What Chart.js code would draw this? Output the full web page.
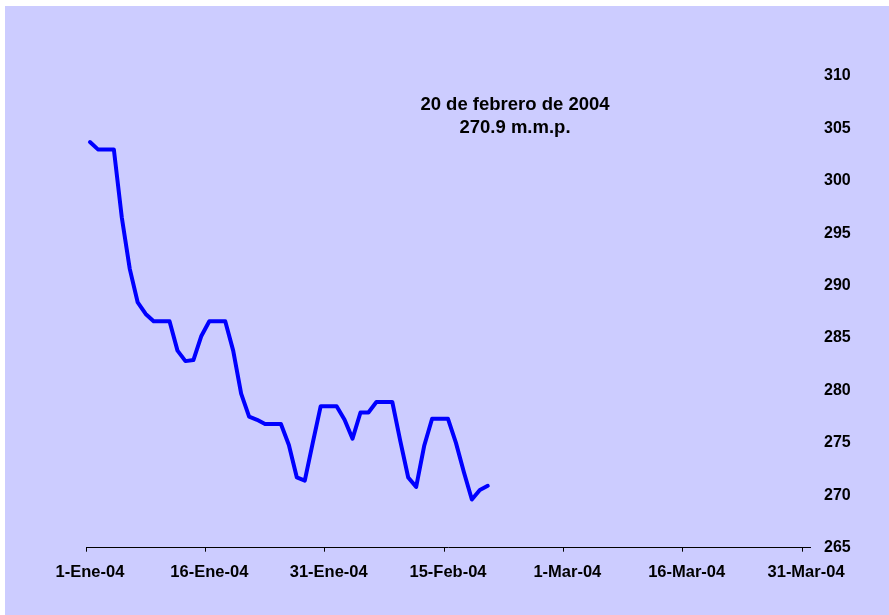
<!DOCTYPE html>
<html>
<head>
<meta charset="utf-8">
<script src="https://cdn.jsdelivr.net/npm/chart.js@4.4.1/dist/chart.umd.min.js"></script>
<style>
    html, body { margin: 0; padding: 0; background: #ffffff; }
    #reservas { position: absolute; left: 5px; top: 6px; background: #ccccff; }
</style>
</head>
<body>
<canvas id="reservas" width="884" height="609"></canvas>
<script>
// daily values, 1-Ene-04 .. 20-Feb-04 (weekends carry Friday's value)
const startDate = '2004-01-01';
const values = [
    303.7, 303.0, 303.0, 303.0, 296.5, 291.6, 288.4, 287.3, 286.6, 286.6,
    286.6, 283.8, 282.8, 282.9, 285.2, 286.6, 286.6, 286.6, 283.8, 279.7,
    277.5, 277.2, 276.8, 276.8, 276.8, 274.8, 271.7, 271.4, 275.0, 278.5,
    278.5, 278.5, 277.2, 275.4, 277.9, 277.9, 278.9, 278.9, 278.9, 275.2,
    271.7, 270.8, 274.7, 277.3, 277.3, 277.3, 275.0, 272.2, 269.6, 270.5,
    270.9
];
const tickDays = [0, 15, 30, 45, 60, 75, 90];
const xTickLabels = ['1-Ene-04', '16-Ene-04', '31-Ene-04', '15-Feb-04', '1-Mar-04', '16-Mar-04', '31-Mar-04'];
const yMin = 265, yMax = 310, yStep = 5;
const noteLines = ['20 de febrero de 2004', '270.9 m.m.p.'];

const dayMs = 24 * 3600 * 1000;
const t0 = Date.parse(startDate);
const points = values.map((v, i) => {
    const d = new Date(t0 + i * dayMs);
    return { x: Math.round((d - t0) / dayMs), y: v };
});

const notePlugin = {
    id: 'note',
    afterDraw(chart) {
        const ctx = chart.ctx;
        ctx.save();
        ctx.fillStyle = '#000000';
        ctx.font = 'bold 18.5px "Liberation Sans", Arial, sans-serif';
        ctx.textAlign = 'center';
        ctx.textBaseline = 'middle';
        ctx.fillText(noteLines[0], 510, 98.5);
        ctx.fillText(noteLines[1], 510, 122);
        ctx.restore();
    }
};

const ctx = document.getElementById('reservas').getContext('2d');
new Chart(ctx, {
    type: 'line',
    data: {
        datasets: [{
            data: points,
            borderColor: '#0000ff',
            borderWidth: 4,
            borderJoinStyle: 'round',
            borderCapStyle: 'round',
            pointRadius: 0,
            tension: 0,
            fill: false
        }]
    },
    options: {
        responsive: false,
        animation: false,
        events: [],
        layout: { padding: { left: 81, top: 70, right: 0, bottom: 0 } },
        plugins: {
            legend: { display: false },
            tooltip: { enabled: false }
        },
        scales: {
            x: {
                type: 'linear',
                min: -0.5,
                max: 90.5,
                afterBuildTicks: (scale) => {
                    scale.ticks = tickDays.map(d => ({ value: d - 0.5 }));
                },
                afterFit: (scale) => { scale.height = 67.3; },
                border: { display: true, color: '#000000', width: 1 },
                grid: { drawOnChartArea: false, drawTicks: true, tickLength: 4, color: '#000000' },
                ticks: {
                    autoSkip: false,
                    maxRotation: 0,
                    padding: 11,
                    labelOffset: 4,
                    color: '#000000',
                    font: { family: '"Liberation Sans", Arial, sans-serif', size: 16.5, weight: 'bold' },
                    callback: (value, index) => xTickLabels[index]
                }
            },
            y: {
                position: 'right',
                min: yMin,
                max: yMax,
                afterFit: (scale) => { scale.width = 79; },
                border: { display: false },
                grid: { display: false, drawTicks: false },
                ticks: {
                    stepSize: yStep,
                    padding: 14,
                    color: '#000000',
                    font: { family: '"Liberation Sans", Arial, sans-serif', size: 16, weight: 'bold' }
                }
            }
        }
    },
    plugins: [notePlugin]
});
</script>
</body>
</html>
